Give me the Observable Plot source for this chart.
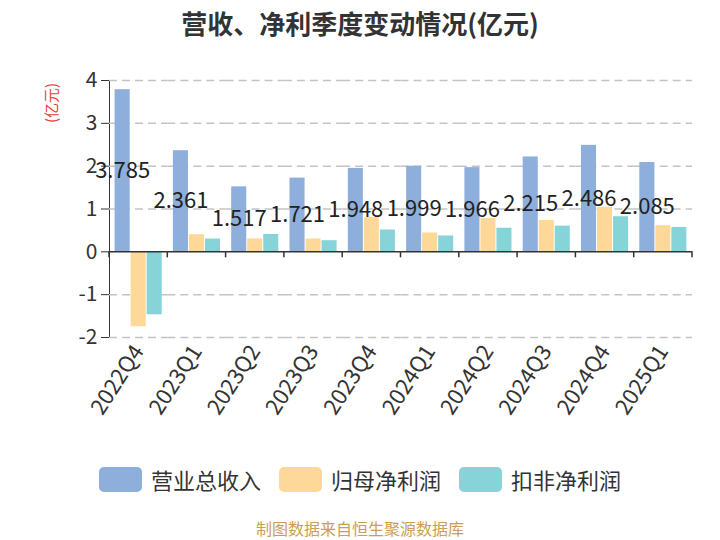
<!DOCTYPE html>
<html>
<head>
<meta charset="utf-8">
<script src="https://cdn.jsdelivr.net/npm/d3@7"></script>
<script src="https://cdn.jsdelivr.net/npm/@observablehq/plot@0.6"></script>
<style>
  html, body { margin: 0; padding: 0; background: #fff; }
  body { width: 720px; font-family: "Noto Sans CJK SC", "Noto Sans", sans-serif; }
  #title { height: 45px; line-height: 45px; text-align: center; font-size: 26px; font-weight: bold; color: #333; }
  #chart svg { display: block; }
  #legend { height: 76px; display: flex; justify-content: center; align-items: center; gap: 18px; font-size: 22px; color: #333; }
  .item { display: flex; align-items: center; gap: 9px; }
  .swatch { width: 43px; height: 25px; border-radius: 5px; }
  #caption { height: 22px; line-height: 22px; text-align: center; font-size: 16px; color: #c9a04f; }
</style>
</head>
<body>
<div id="title">营收、净利季度变动情况(亿元)</div>
<div id="chart"></div>
<div id="legend"></div>
<div id="caption">制图数据来自恒生聚源数据库</div>
<script>
const FONT = '"Noto Sans CJK SC", "Noto Sans", sans-serif';
const quarters = ["2022Q4","2023Q1","2023Q2","2023Q3","2023Q4","2024Q1","2024Q2","2024Q3","2024Q4","2025Q1"];
const revenue = [3.785, 2.361, 1.517, 1.721, 1.948, 1.999, 1.966, 2.215, 2.486, 2.085];
const netProfit = [-1.75, 0.40, 0.30, 0.30, 0.80, 0.44, 0.78, 0.73, 1.04, 0.61];
const deductedProfit = [-1.47, 0.30, 0.405, 0.26, 0.51, 0.37, 0.55, 0.60, 0.82, 0.57];
const seriesNames = ["营业总收入", "归母净利润", "扣非净利润"];
const colors = ["#8eaedb", "#fed899", "#87d4d8"];
const yTicks = [-2, -1, 0, 1, 2, 3, 4];

const rows = quarters.flatMap((q, i) => [
  {quarter: q, series: seriesNames[0], value: revenue[i]},
  {quarter: q, series: seriesNames[1], value: netProfit[i]},
  {quarter: q, series: seriesNames[2], value: deductedProfit[i]}
]);

const chart = Plot.plot({
  width: 720, height: 396,
  marginLeft: 109, marginRight: 28, marginTop: 35, marginBottom: 104,
  style: {fontFamily: FONT, fontSize: "21px", color: "#333", background: "white", overflow: "visible"},
  facet: {data: rows, x: "quarter"},
  fx: {domain: quarters, padding: 0, round: false, axis: "bottom", label: null, tickRotate: -57, tickSize: 0, tickPadding: 10},
  x: {domain: seriesNames, axis: null, paddingInner: 0.06, paddingOuter: 0.35, round: false},
  y: {domain: [-2, 4], ticks: yTicks, tickFormat: d => String(d), label: null, line: true, tickSize: 8, tickPadding: 4},
  color: {domain: seriesNames, range: colors},
  marks: [
    Plot.ruleY(yTicks.filter(v => v !== 0), {stroke: "#c4c4c4", strokeWidth: 1.5, strokeDasharray: "8,5"}),
    Plot.barY(rows, {x: "series", y: "value", fill: "series"}),
    Plot.ruleY([0], {stroke: "#333", strokeWidth: 1.5}),
    Plot.text(rows, {filter: d => d.series === seriesNames[0], x: "series", y: d => d.value / 2,
      text: d => d.value.toFixed(3), fill: "#222", fontSize: 22})
  ]
});
document.getElementById("chart").appendChild(chart);

// boundary ticks on the zero line and y-axis title
const svg = d3.select(chart);
svg.selectAll("[aria-label='fx-axis tick label'] text, [aria-label='fx-axis'] text").attr("font-size", 22);
const fx = chart.scale("fx");
const ys = chart.scale("y");
const y0 = ys.apply(0);
const bounds = quarters.map(q => fx.apply(q));
bounds.push(fx.apply(quarters[quarters.length - 1]) + fx.bandwidth);
svg.append("g").selectAll("line").data(bounds).join("line")
  .attr("x1", d => d).attr("x2", d => d)
  .attr("y1", y0).attr("y2", y0 + 6)
  .attr("stroke", "#333").attr("stroke-width", 1.5);
svg.append("text")
  .attr("transform", "translate(53,58) rotate(-90)")
  .attr("text-anchor", "middle").attr("dominant-baseline", "middle")
  .attr("fill", "#e8413c").attr("font-size", 15).attr("font-family", FONT)
  .text("(亿元)");

// legend
const legend = d3.select("#legend");
seriesNames.forEach((s, i) => {
  const it = legend.append("div").attr("class", "item");
  it.append("div").attr("class", "swatch").style("background", colors[i]);
  it.append("span").text(s);
});
</script>
</body>
</html>
